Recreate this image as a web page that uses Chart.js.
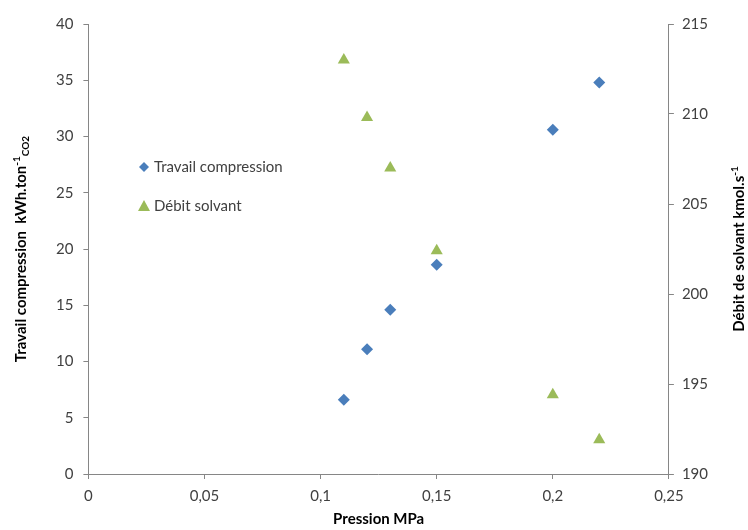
<!DOCTYPE html>
<html>
<head>
<meta charset="utf-8">
<script src="https://cdn.jsdelivr.net/npm/chart.js@4/dist/chart.umd.min.js"></script>
<style>
  html, body { margin: 0; padding: 0; background: #fff; }
  #wrap { width: 748px; height: 530px; }
</style>
</head>
<body>
<div id="wrap"><canvas id="graf"></canvas></div>
<script>
const pression = [0.11, 0.12, 0.13, 0.15, 0.2, 0.22];
const travail = [6.6, 11.1, 14.6, 18.6, 30.6, 34.8];
const debit = [213.0, 209.8, 207.0, 202.4, 194.4, 191.9];
const xTicks = [0, 0.05, 0.1, 0.15, 0.2, 0.25];

const police = 'Lato, "Open Sans", sans-serif';
const gris = '#868686';
const texte = '#404040';

// titres d'axes avec exposants / indices
const titres = {
  id: 'titres',
  afterDraw(chart) {
    const c = chart.ctx;
    const a = chart.chartArea;
    c.save();
    c.fillStyle = '#000';
    c.textBaseline = 'alphabetic';

    function morceaux(parts, x, y, rot) {
      c.save();
      c.translate(x, y);
      c.rotate(rot);
      let w = 0;
      parts.forEach(p => { c.font = p.f; w += c.measureText(p.t).width; });
      let px = -w / 2;
      parts.forEach(p => {
        c.font = p.f;
        c.fillText(p.t, px, p.dy || 0);
        px += c.measureText(p.t).width;
      });
      c.restore();
    }
    const b = 'bold 15px ' + police;
    const s = 'bold 10px ' + police;
    morceaux([
      { t: 'Travail compression  kWh.ton', f: b },
      { t: '-1', f: s, dy: -6 },
      { t: 'CO2', f: s, dy: 3 }
    ], 26, (a.top + a.bottom) / 2, -Math.PI / 2);
    morceaux([
      { t: 'Débit de solvant kmol.s', f: b },
      { t: '-1', f: s, dy: -6 }
    ], 744, (a.top + a.bottom) / 2, -Math.PI / 2);
    morceaux([{ t: 'Pression MPa', f: b }], (a.left + a.right) / 2, 524, 0);
    c.restore();
  }
};

// légende placée dans la zone du graphique
const legende = {
  id: 'legende',
  afterDraw(chart) {
    const c = chart.ctx;
    c.save();
    c.font = '15px ' + police;
    c.textBaseline = 'middle';
    // losange
    c.fillStyle = '#4A7EBB';
    c.beginPath();
    c.moveTo(144, 162); c.lineTo(149, 167); c.lineTo(144, 172); c.lineTo(139, 167);
    c.closePath(); c.fill();
    // triangle
    c.fillStyle = '#9BBB59';
    c.beginPath();
    c.moveTo(144, 200); c.lineTo(150, 211); c.lineTo(138, 211);
    c.closePath(); c.fill();
    c.fillStyle = texte;
    c.fillText('Travail compression', 154, 167);
    c.fillText('Débit solvant', 154, 206);
    c.restore();
  }
};

new Chart(document.getElementById('graf').getContext('2d'), {
  type: 'scatter',
  data: {
    datasets: [{
      label: 'Travail compression',
      data: pression.map((x, i) => ({ x: x, y: travail[i] })),
      yAxisID: 'y',
      pointStyle: 'rectRot',
      pointRadius: 6,
      pointHoverRadius: 6,
      backgroundColor: '#4A7EBB',
      borderColor: '#4A7EBB',
      borderWidth: 0
    }, {
      label: 'Débit solvant',
      data: pression.map((x, i) => ({ x: x, y: debit[i] })),
      yAxisID: 'y1',
      pointStyle: 'triangle',
      pointRadius: 7,
      pointHoverRadius: 7,
      backgroundColor: '#9BBB59',
      borderColor: '#9BBB59',
      borderWidth: 0
    }]
  },
  options: {
    responsive: true,
    maintainAspectRatio: false,
    animation: false,
    layout: { padding: { left: 46, right: 32, top: 24, bottom: 17 } },
    plugins: { legend: { display: false }, tooltip: { enabled: false } },
    scales: {
      x: {
        type: 'linear', min: 0, max: 0.25,
        afterBuildTicks: axe => { axe.ticks = xTicks.map(v => ({ value: v })); },
        ticks: {
          color: texte, font: { family: police, size: 15 }, padding: 8,
          callback: v => String(Math.round(v * 100) / 100).replace('.', ',')
        },
        grid: { drawOnChartArea: false, drawTicks: true, tickLength: 5, color: gris },
        border: { color: gris }
      },
      y: {
        position: 'left', min: 0, max: 40,
        ticks: { stepSize: 5, color: texte, font: { family: police, size: 15 }, padding: 10 },
        grid: { drawOnChartArea: false, drawTicks: true, tickLength: 5, color: gris },
        border: { color: gris }
      },
      y1: {
        position: 'right', min: 190, max: 215,
        ticks: { stepSize: 5, color: texte, font: { family: police, size: 15 }, padding: 8 },
        grid: { drawOnChartArea: false, drawTicks: true, tickLength: 5, color: gris },
        border: { color: gris }
      }
    }
  },
  plugins: [titres, legende]
});
</script>
</body>
</html>
